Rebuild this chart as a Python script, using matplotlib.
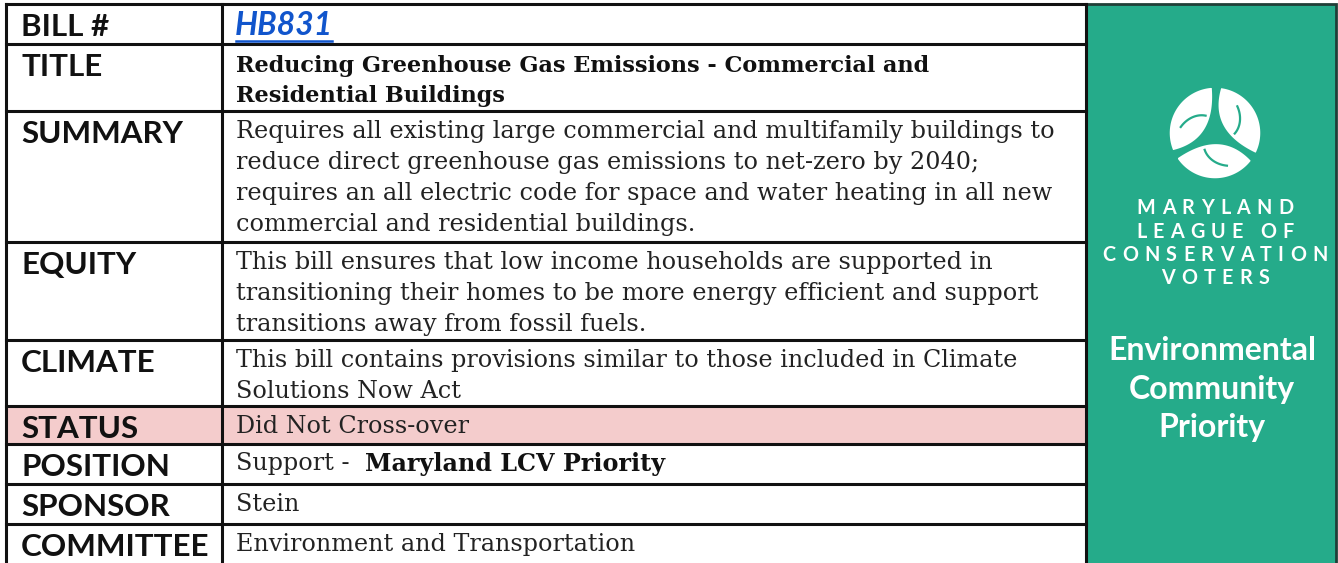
import numpy as np
import matplotlib
matplotlib.use("Agg")
import matplotlib.pyplot as plt
from matplotlib.patches import Rectangle, Polygon
from matplotlib.font_manager import FontProperties

# table contents
labels = ["BILL #", "TITLE", "SUMMARY", "EQUITY", "CLIMATE",
          "STATUS", "POSITION", "SPONSOR", "COMMITTEE"]
bill_no = "HB831"
title = "Reducing Greenhouse Gas Emissions - Commercial and\nResidential Buildings"
summary = ("Requires all existing large commercial and multifamily buildings to\n"
           "reduce direct greenhouse gas emissions to net-zero by 2040;\n"
           "requires an all electric code for space and water heating in all new\n"
           "commercial and residential buildings.")
equity = ("This bill ensures that low income households are supported in\n"
          "transitioning their homes to be more energy efficient and support\n"
          "transitions away from fossil fuels.")
climate = ("This bill contains provisions similar to those included in Climate\n"
           "Solutions Now Act")
status = "Did Not Cross-over"
position_plain = "Support -  "
position_bold = "Maryland LCV Priority"
sponsor = "Stein"
committee = "Environment and Transportation"

org_lines = ["MARYLAND", "LEAGUE OF", "CONSERVATION", "VOTERS"]
badge_lines = ["Environmental", "Community", "Priority"]

# layout in pixels
W, H = 1338, 563
row_edges = [4, 44, 111, 242, 340, 406, 444, 484, 524, 600]
x_left, x_div, x_right, x_panel_end = 6, 222, 1086, 1336

GREEN = "#25ab8a"
PINK = "#f4cccc"
LINK = "#1155cc"

fig = plt.figure(figsize=(W / 100, H / 100), dpi=100)
ax = fig.add_axes([0, 0, 1, 1])
ax.set_xlim(0, W)
ax.set_ylim(H, 0)
ax.axis("off")
fig.canvas.draw()
r = fig.canvas.get_renderer()

sans = "Lato"
serif = "DejaVu Serif"
lab_size = 22.6
val_size = 17.2

# status row background
si = labels.index("STATUS")
ax.add_patch(Rectangle((x_left, row_edges[si]), x_right - x_left,
                       row_edges[si + 1] - row_edges[si], color=PINK, zorder=0))

# grid lines
for y in row_edges[:-1]:
    ax.plot([x_left, x_right], [y, y], color="#111111", lw=2.2, zorder=3)
for x in [x_left, x_div, x_right]:
    ax.plot([x, x], [row_edges[0], H + 5], color="#111111", lw=2.2, zorder=3)

values = [None, title, summary, equity, climate, status, None, sponsor, committee]
for i, lab in enumerate(labels):
    top = row_edges[i]
    ax.text(21, top + 9, lab, fontfamily=sans, fontweight="bold",
            fontsize=lab_size, va="top", ha="left", color="#111111")
    val = values[i]
    if val is None:
        continue
    if lab == "TITLE":
        ax.text(236, top + 11, val, fontfamily=serif, fontweight="bold",
                fontsize=16.1, va="top", ha="left", color="#111111",
                linespacing=1.47)
    else:
        ax.text(236, top + 9, val, fontfamily=serif, fontsize=val_size,
                va="top", ha="left", color="#222222", linespacing=1.44)

# bill number link
ax.text(235, row_edges[0] + 7, bill_no, fontfamily=sans, fontweight="bold",
        style="italic", fontsize=23, va="top", ha="left", color=LINK)
ax.plot([236, 332], [41, 41], color=LINK, lw=1.8, zorder=4)

# position row, plain then bold part
pi = labels.index("POSITION")
tp = ax.text(236, row_edges[pi] + 8, position_plain, fontfamily=serif,
             fontsize=val_size, va="top", ha="left", color="#222222")
bb = tp.get_window_extent(renderer=r)
ax.text(236 + bb.width, row_edges[pi] + 8, position_bold, fontfamily=serif,
        fontweight="bold", fontsize=val_size, va="top", ha="left", color="#111111")

# green panel
ax.add_patch(Rectangle((x_right, row_edges[0]), x_panel_end - x_right, H,
                       facecolor=GREEN, edgecolor="#1f3f37", lw=2, zorder=2))

# logo: three white leaves forming a disc
cx, cy, rad = 1215, 133, 47
t = np.linspace(0, 1, 40)
for k in range(3):
    a1 = np.deg2rad(92 + 120 * k)
    a2 = a1 + np.deg2rad(112)
    arc = np.linspace(a1, a2, 60)
    ox, oy = rad * np.cos(arc), rad * np.sin(arc)
    p0 = np.array([ox[-1], oy[-1]])
    p2 = np.array([ox[0], oy[0]])
    cm = a1 + np.deg2rad(20)
    c = np.array([-0.2 * rad * np.cos(cm), -0.2 * rad * np.sin(cm)])
    bez = ((1 - t)[:, None] ** 2 * p0 + 2 * ((1 - t) * t)[:, None] * c
           + (t ** 2)[:, None] * p2)
    xs = np.concatenate([ox, bez[:, 0]])
    ys = np.concatenate([oy, bez[:, 1]])
    ax.add_patch(Polygon(np.column_stack([cx + xs, cy - ys]), closed=True,
                         facecolor="white", edgecolor=GREEN, lw=2.5,
                         zorder=4 + 0.1 * k))
    # leaf vein
    vm = a1 + np.deg2rad(58)
    va_ = np.linspace(vm - 0.55, vm + 0.35, 20)
    vr = np.linspace(0.42, 0.74, 20) * rad
    ax.plot(cx + vr * np.cos(va_), cy - vr * np.sin(va_), color=GREEN,
            lw=1.6, zorder=5)

# spaced-out organisation name, letter by letter
fp = FontProperties(family=sans, weight="bold", size=14.2)
track = 6.3
for j, line in enumerate(org_lines):
    widths = [r.get_text_width_height_descent(ch, fp, ismath=False)[0] for ch in line]
    total = sum(widths) + track * (len(line) - 1)
    x = 1215 - total / 2
    for ch, w in zip(line, widths):
        ax.text(x, 208 + j * 23.5, ch, fontproperties=fp, color="white",
                ha="left", va="center", zorder=6)
        x += w + track

for j, line in enumerate(badge_lines):
    ax.text(1212, 351 + j * 38, line, fontfamily=sans, fontweight="bold",
            fontsize=23, color="white", ha="center", va="center", zorder=6)

fig.savefig("out.png", dpi=100)
